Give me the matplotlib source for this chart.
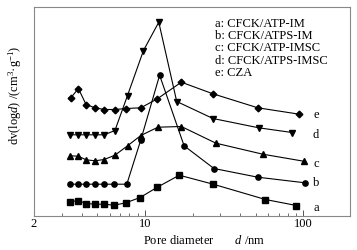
import matplotlib
matplotlib.use('Agg')
import matplotlib.pyplot as plt
from matplotlib.ticker import FixedLocator, NullFormatter, LogLocator

plt.rcParams['font.family'] = 'Liberation Serif'
plt.rcParams['mathtext.fontset'] = 'custom'
plt.rcParams['mathtext.rm'] = 'Liberation Serif'
plt.rcParams['mathtext.it'] = 'Liberation Serif:italic'

# пори, нм
d_a = [3.39, 3.81, 4.26, 4.85, 5.55, 6.41, 7.6, 9.34, 12.0, 16.5, 27.0, 57.7, 90.4]
y_a = [13.7, 15, 12, 11.3, 11.3, 10.3, 12.7, 18, 28.3, 40.3, 31.3, 16, 10]

d_b = [3.39, 3.81, 4.26, 4.85, 5.55, 6.41, 7.7, 9.44, 12.4, 17.7, 27.3, 51.6, 102.5]
y_b = [31.3, 31.3, 31.3, 31.3, 31.3, 31.3, 31.3, 75.7, 140.3, 69.7, 47, 38.3, 32.7]

d_c = [3.39, 3.81, 4.26, 4.85, 5.55, 6.48, 7.78, 9.44, 12.1, 17.0, 28.1, 55.5, 100.4]
y_c = [59.7, 59.3, 55.7, 54.7, 56, 60.3, 69.7, 80, 88.3, 89, 72.3, 61.3, 54.3]

d_d = [3.39, 3.81, 4.26, 4.85, 5.55, 6.48, 7.78, 9.81, 12.25, 15.9, 26.9, 52.3, 84.9]
y_d = [80.7, 80.7, 80.7, 80.7, 80.7, 85, 120, 165, 193.3, 114, 97, 87.7, 83]

d_e = [3.43, 3.81, 4.26, 4.85, 5.55, 6.48, 7.63, 9.44, 12.0, 17.0, 26.9, 51.6, 94.4]
y_e = [118, 127, 111, 107.7, 106, 106, 107, 107.7, 116.7, 133.3, 121.7, 107.7, 101.3]

curve_tags = ['a', 'b', 'c', 'd', 'e']
tag_y = [7.5, 32.7, 51.7, 80.7, 100.7]
legend_lines = ['a: CFCK/ATP-IM', 'b: CFCK/ATPS-IM', 'c: CFCK/ATP-IMSC',
                'd: CFCK/ATPS-IMSC', 'e: CZA']

fig = plt.figure(figsize=(3.57, 2.5), dpi=100)
ax = fig.add_axes([34 / 357, 1 - 215.5 / 250, 316 / 357, 208.2 / 250])

kw = dict(color='black', lw=0.8, markersize=3.8)
ax.plot(d_a, y_a, marker='s', **kw)
ax.plot(d_b, y_b, marker='o', **kw)
ax.plot(d_c, y_c, marker='^', **kw)
ax.plot(d_d, y_d, marker='v', **kw)
ax.plot(d_e, y_e, marker='D', **dict(kw, markersize=3.4))

for t, yy in zip(curve_tags, tag_y):
    ax.text(120, yy, t, fontsize=9, va='center', ha='center')

ax.set_xscale('log')
ax.set_xlim(2, 197)
ax.set_ylim(0, 208.2)
ax.xaxis.set_major_locator(FixedLocator([2, 10, 100]))
ax.set_xticklabels(['2', '10', '100'])
ax.xaxis.set_minor_locator(LogLocator(base=10, subs=range(2, 10)))
ax.xaxis.set_minor_formatter(NullFormatter())
ax.set_yticks([])
ax.tick_params(axis='x', which='major', direction='in', length=4, width=0.7,
               labelsize=9, pad=2, color='#555555')
ax.tick_params(axis='x', which='minor', direction='in', length=2, width=0.6,
               color='#555555')
for s in ax.spines.values():
    s.set_color('#888888')
    s.set_linewidth(0.8)

for i, line in enumerate(legend_lines):
    fig.text(215 / 357, 1 - (24 + 12.2 * i) / 250, line, fontsize=9, va='center')

fig.text(15 / 357, 1 - 95 / 250, r'dv(log$d$) /(cm$^{3}$·g$^{-1}$)',
         rotation=90, fontsize=9, ha='center', va='center')
fig.text(204 / 357, 1 - 240 / 250, r'Pore diameter       $d$ /nm',
         fontsize=9, ha='center', va='center')

fig.savefig('out.png', dpi=100)
